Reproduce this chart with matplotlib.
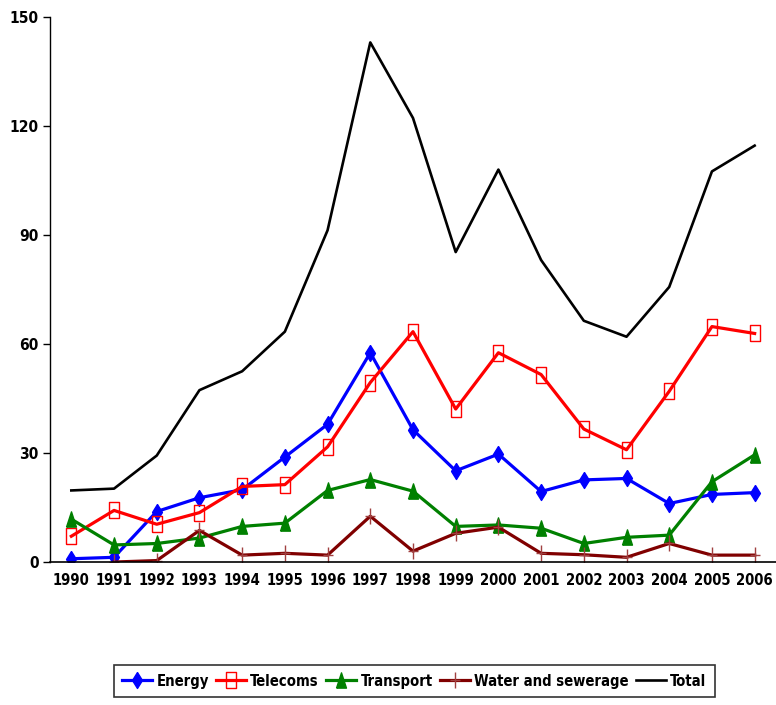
import os
import numpy as np
import matplotlib
matplotlib.use("Agg")
import matplotlib.pyplot as plt
from matplotlib import font_manager
from matplotlib.font_manager import FontProperties
from matplotlib.path import Path

years = [str(y) for y in range(1990, 2007)]
energy = [0.9, 1.3, 13.9, 17.7, 19.9, 28.9, 37.9, 57.6, 36.4, 25.1, 29.7, 19.4, 22.6, 23.0, 16.1, 18.6, 19.1]
telecoms = [7.1, 14.2, 10.4, 13.6, 20.8, 21.3, 31.7, 49.4, 63.4, 42.1, 57.6, 51.6, 36.6, 30.9, 47.0, 64.8, 62.9]
transport = [11.8, 4.7, 5.1, 6.6, 9.8, 10.7, 19.7, 22.7, 19.5, 9.8, 10.2, 9.3, 5.1, 6.8, 7.4, 22.1, 29.5]
water = [np.nan, 0.0, 0.4, 8.7, 1.9, 2.4, 1.9, 12.6, 3.0, 7.9, 9.6, 2.4, 2.0, 1.3, 5.1, 1.9, 1.9]
total = [19.7, 20.2, 29.3, 47.3, 52.5, 63.4, 91.3, 143.0, 122.2, 85.3, 108.0, 83.1, 66.4, 62.0, 75.7, 107.5, 114.6]
yticks = [0, 30, 60, 90, 120, 150]

# --- look for a narrow bold font -------------------------------------------
def find_font():
    files = [f.fname for f in font_manager.fontManager.ttflist]
    prefs = ['liberationsansnarrow-bold.', 'arialnarrowbold', 'arial narrow bold',
             'notosans-extracondensedbold.', 'notosans-condensedbold.',
             'dejavusanscondensed-bold.']
    for p in prefs:
        for f in files:
            if os.path.basename(f).lower().startswith(p):
                return f
    return None

FONT = find_font()

def fp(size):
    if FONT:
        return FontProperties(fname=FONT, size=size)
    return FontProperties(family=['Liberation Sans', 'DejaVu Sans'], weight='bold', size=size)

plt.rcParams['font.family'] = ['Liberation Sans', 'DejaVu Sans']

fig = plt.figure(figsize=(7.76, 7.05), dpi=100)
ax = fig.add_axes([0.0644, 0.2028, 0.9356, 0.7731])
x = np.arange(len(years))

diamond = [(0, 1), (0.62, 0), (0, -1), (-0.62, 0), (0, 1)]
rect = [(-0.7, -1), (0.7, -1), (0.7, 1), (-0.7, 1), (-0.7, -1)]
tri = [(-0.65, -1), (0.65, -1), (0, 1), (-0.65, -1)]
plus = Path([(0, -1), (0, 1), (-0.6, 0), (0.6, 0)],
            [Path.MOVETO, Path.LINETO, Path.MOVETO, Path.LINETO])

ax.plot(x, energy, color='#0000FF', lw=2.3, marker=diamond, ms=11.5, label='Energy')
ax.plot(x, telecoms, color='#FF0000', lw=2.3, marker=rect, ms=11, mfc='none', mew=1.0, label='Telecoms')
ax.plot(x, transport, color='#008000', lw=2.3, marker=tri, ms=11, label='Transport')
ax.plot(x, water, color='#800000', lw=2.3, marker=plus, ms=12, mew=1.0, mec='#a04040', label='Water and sewerage')
ax.plot(x, total, color='black', lw=1.9, label='Total')

ax.set_xlim(-0.5, len(years) - 0.5)
ax.set_ylim(0, 150)
ax.set_yticks(yticks)
ax.set_xticks(x)
ax.tick_params(axis='x', length=0, pad=8)
ax.tick_params(axis='y', length=5, direction='out', width=1, pad=3)
for s in ['top', 'right']:
    ax.spines[s].set_visible(False)
ax.spines['left'].set_linewidth(1)
ax.spines['bottom'].set_linewidth(1.2)

# size tick labels so that their width matches the reference
ax.set_xticklabels(years, fontproperties=fp(10))
ax.set_yticklabels([str(t) for t in yticks], fontproperties=fp(10))
fig.canvas.draw()
r = fig.canvas.get_renderer()
w = ax.get_xticklabels()[0].get_window_extent(r).width
tick_size = min(10 * 37.0 / w, 16.5)
ax.set_xticklabels(years, fontproperties=fp(tick_size))
ax.set_yticklabels([str(t) for t in yticks], fontproperties=fp(tick_size * 1.05))

def make_legend(size):
    em = size * 100 / 72.0
    return fig.legend(loc='center', bbox_to_anchor=(0.534, 0.034), ncol=5,
                      prop=fp(size), frameon=True, fancybox=False,
                      edgecolor='black', handlelength=30.0 / em, handletextpad=4.0 / em,
                      columnspacing=7.5 / em, borderpad=0.6, borderaxespad=0)

leg = make_legend(10)
fig.canvas.draw()
w = leg.get_texts()[0].get_window_extent(r).width
leg.remove()
leg_size = min(10 * 52.0 / w, 16)
leg = make_legend(leg_size)
leg.get_frame().set_linewidth(1.2)

fig.savefig('out.png', dpi=100)
